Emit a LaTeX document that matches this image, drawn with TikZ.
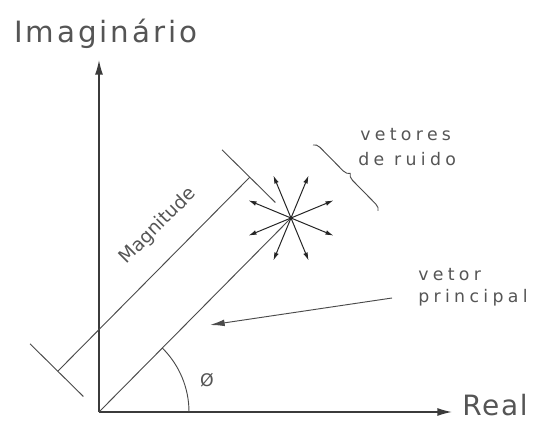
\documentclass[tikz,border=0pt]{standalone}
\usepackage{fontspec}
\setmainfont{DejaVu Sans}
\newfontfamily\bigcad[LetterSpace=10]{DejaVu Sans}
\newfontfamily\realcad[LetterSpace=6]{DejaVu Sans}
\newfontfamily\smallcad[LetterSpace=25]{DejaVu Sans}
\usetikzlibrary{arrows.meta,decorations.pathreplacing}
\definecolor{inkgray}{HTML}{4A4A4A}
\definecolor{txtgray}{HTML}{555555}
\tikzset{
  thinline/.style={draw=inkgray, line width=0.7pt},
  axisline/.style={draw=inkgray!80!black, line width=1.1pt, -{Latex[length=11pt,width=6pt]}},
  noisearrow/.style={draw=black!85, line width=0.75pt, -{Latex[length=6pt,width=3.5pt]}},
  mainarrow/.style={draw=inkgray, line width=0.7pt, -{Latex[length=11pt,width=5pt]}},
  bigtext/.style={inner sep=0pt, text=txtgray, font=\bigcad\fontsize{22}{24}\selectfont},
  realtext/.style={inner sep=0pt, text=txtgray, font=\realcad\fontsize{21}{23}\selectfont},
  smalltext/.style={inner sep=0pt, text=txtgray, font=\smallcad\fontsize{13}{15}\selectfont},
  magtext/.style={inner sep=0pt, text=txtgray, font=\fontsize{14}{16}\selectfont},
}
\begin{document}
\begin{tikzpicture}[x=0.75pt, y=-0.75pt]
\useasboundingbox (0,0) rectangle (536,421);
% key points
\coordinate (O) at (99,412);
\coordinate (Ytip) at (99,60);
\coordinate (Xtip) at (452,412);
\coordinate (C) at (291,218);
% axes
\draw[axisline] (O) -- (Ytip);
\draw[axisline] (O) -- (Xtip);
% main vector
\draw[thinline] (O) -- (C);
% dimension (magnitude)
\coordinate (E1a) at (83.4,396.5);
\coordinate (E1b) at (30,343.8);
\coordinate (E2a) at (275.4,202.5);
\coordinate (E2b) at (222,149.8);
\coordinate (D1) at (57.8,371.2);
\coordinate (D2) at (249.8,177.2);
\draw[thinline] (E1a) -- (E1b);
\draw[thinline] (E2a) -- (E2b);
\draw[thinline] (D1) -- (D2);
\node[magtext, rotate=45] (nMag) at (158,226) {Magnitude};
% angle arc
\coordinate (A0) at (189,412);
\draw[thinline] (A0) arc[start angle=0, end angle=-45.3, radius=90];
\node[inner sep=0pt, text=txtgray, font=\fontsize{13}{15}\selectfont] (nPhi) at (207,380) {Ø};
% noise vectors
\foreach \a in {22.5,67.5,112.5,157.5,202.5,247.5,292.5,337.5}{
  \draw[noisearrow] (C) -- ++(\a:46);
}
% brace
\coordinate (B1) at (313,145);
\coordinate (B2) at (378,211);
\draw[thinline, decorate, decoration={brace, amplitude=5pt}] (B1) -- (B2);
% labels
\node[bigtext, anchor=base west] (nImag) at (14,42) {Imaginário};
\node[realtext, anchor=base west] (nReal) at (462,415) {Real};
\node[smalltext, anchor=base west] (nVetores) at (360,140) {vetores};
\node[smalltext, anchor=base west] (nRuido) at (358,165) {de ruido};
\node[smalltext, anchor=base west] (nVetor) at (418,280) {vetor};
\node[smalltext, anchor=base west] (nPrincipal) at (418,302) {principal};
% pointer to main vector
\coordinate (Ps) at (392,298);
\coordinate (Pt) at (210,325);
\draw[mainarrow] (Ps) -- (Pt);
\end{tikzpicture}
\end{document}
